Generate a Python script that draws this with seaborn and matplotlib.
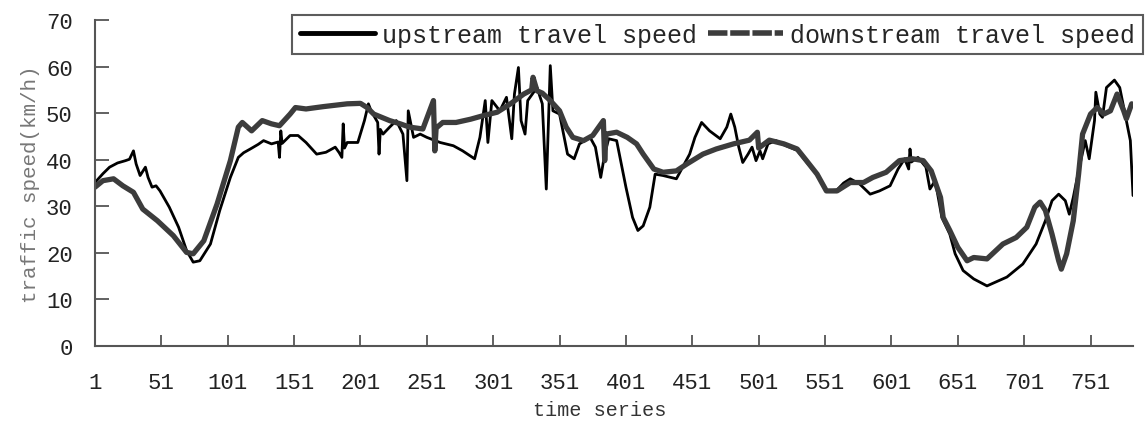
import pandas as pd
import seaborn as sns
import matplotlib.pyplot as plt
from matplotlib.lines import Line2D

sns.set_theme(style="white")
plt.rcParams["font.family"] = ["Liberation Mono", "DejaVu Sans Mono"]

# values
up_x = [1, 7, 12, 18, 24, 27, 30, 32, 35, 39, 41, 44, 47, 50, 57, 64, 70, 75, 80, 88,
        95, 103, 109, 113, 118, 124, 128, 134, 139, 140, 141, 142, 148, 154, 160, 168,
        175, 182, 185, 187, 188, 189, 191, 199, 204, 207, 209, 214, 215, 216, 218, 223,
        228, 233, 236, 237, 241, 246, 251, 261, 271, 278, 287, 291, 295, 297, 300, 306,
        311, 315, 317, 320, 322, 325, 327, 334, 338, 341, 344, 346, 351, 357, 362, 366,
        374, 378, 382, 385, 388, 394, 401, 406, 410, 414, 419, 423, 429, 439, 449, 453,
        458, 464, 472, 477, 480, 483, 486, 489, 493, 496, 499, 502, 504, 508, 514, 520,
        530, 537, 545, 552, 560, 565, 570, 577, 585, 592, 600, 606, 611, 614, 615, 616,
        621, 627, 630, 634, 639, 645, 649, 655, 663, 673, 688, 700, 710, 717, 722, 727,
        732, 735, 738, 742, 747, 750, 754, 755, 758, 760, 763, 769, 773, 778, 781, 783]
up_y = [35.1, 37.0, 38.4, 39.3, 39.8, 40.1, 41.9, 39.1, 36.6, 38.4, 36.2, 34.1, 34.4, 33.3,
        29.8, 25.5, 20.5, 18.0, 18.3, 21.9, 29.1, 36.2, 40.5, 41.5, 42.3, 43.3, 44.1, 43.4,
        43.8, 40.5, 46.2, 43.5, 45.2, 45.2, 43.7, 41.2, 41.6, 42.7, 41.5, 40.5, 47.7, 42.5,
        43.7, 43.7, 48.4, 52.0, 50.5, 48.0, 41.2, 46.5, 45.5, 47.0, 48.4, 45.5, 35.5, 50.5,
        44.8, 45.5, 44.8, 43.7, 43.0, 41.9, 40.2, 44.8, 52.7, 43.7, 52.7, 50.5, 53.4, 44.5,
        54.1, 59.8, 48.4, 45.5, 52.7, 55.5, 52.0, 33.7, 60.2, 50.5, 49.8, 41.2, 40.2, 43.4,
        44.8, 42.7, 36.2, 41.2, 44.5, 44.1, 34.1, 27.6, 24.8, 25.8, 29.8, 36.9, 36.6, 35.9,
        41.2, 44.8, 48.0, 46.2, 44.5, 47.0, 49.8, 47.0, 42.7, 39.4, 41.2, 42.7, 39.8, 41.9,
        40.2, 43.4, 44.1, 43.2, 42.0, 39.5, 36.8, 33.3, 33.5, 35.0, 35.9, 34.8, 32.6, 33.3,
        34.4, 38.0, 40.2, 38.0, 42.3, 39.5, 40.5, 38.4, 33.7, 35.5, 27.6, 24.0, 19.8, 16.2,
        14.4, 12.9, 14.8, 17.6, 21.9, 26.9, 31.2, 32.6, 31.2, 28.3, 31.9, 37.6, 44.1, 40.2,
        48.4, 54.5, 49.8, 49.1, 55.5, 57.1, 55.5, 48.4, 44.1, 32.3]

down_x = [1, 7, 15, 22, 30, 37, 48, 60, 70, 75, 83, 93, 103, 109, 112, 119, 127, 134, 140,
          148, 152, 160, 173, 191, 201, 206, 211, 223, 231, 238, 248, 256, 257, 258, 263,
          273, 284, 294, 304, 314, 324, 330, 331, 334, 338, 344, 351, 356, 361, 369, 376,
          384, 385, 386, 394, 402, 409, 414, 422, 429, 439, 447, 459, 469, 482, 494, 500,
          501, 509, 520, 530, 537, 545, 552, 560, 570, 580, 587, 597, 607, 617, 625, 631,
          638, 640, 645, 651, 658, 663, 673, 685, 695, 703, 709, 713, 717, 722, 727, 729,
          733, 738, 742, 745, 751, 756, 761, 766, 771, 776, 778, 782]
down_y = [34.1, 35.5, 35.9, 34.4, 33.0, 29.4, 26.9, 23.7, 20.1, 19.8, 22.6, 30.5, 39.8,
          47.0, 48.0, 46.2, 48.4, 47.7, 47.3, 49.8, 51.2, 50.9, 51.4, 52.0, 52.1, 51.2, 49.8,
          48.4, 47.7, 47.0, 46.6, 52.7, 41.9, 46.8, 48.0, 48.0, 48.7, 49.5, 50.2, 52.0, 54.1,
          55.0, 57.7, 54.8, 54.3, 52.7, 50.5, 47.0, 44.8, 44.1, 45.2, 48.4, 39.8, 45.5, 45.9,
          44.8, 43.4, 41.2, 38.0, 37.3, 37.6, 39.1, 41.2, 42.3, 43.4, 44.2, 45.9, 42.5, 44.2,
          43.4, 42.3, 39.8, 36.9, 33.3, 33.3, 35.1, 35.1, 36.2, 37.3, 39.8, 40.2, 39.8, 37.6,
          31.9, 27.6, 24.8, 21.2, 18.3, 19.0, 18.7, 21.9, 23.3, 25.5, 29.8, 30.9, 29.1, 24.0,
          18.3, 16.5, 19.8, 26.9, 36.9, 45.5, 49.8, 51.2, 49.8, 50.5, 54.1, 50.5, 48.8, 52.0]

x_ticks = list(range(1, 752, 50))

up_df = pd.DataFrame({"t": up_x, "speed": up_y})
down_df = pd.DataFrame({"t": down_x, "speed": down_y})

fig = plt.figure(figsize=(11.47, 4.27), dpi=100)
ax = fig.add_axes([0.0828, 0.1874, 0.905, 0.7634])

sns.lineplot(data=up_df, x="t", y="speed", ax=ax, color="black", linewidth=2.0)
sns.lineplot(data=down_df, x="t", y="speed", ax=ax, color="#3c3c3c", linewidth=3.8)

ax.set_xlim(1, 783)
ax.set_ylim(0, 70)
ax.set_xticks(x_ticks)
ax.set_xticklabels([str(t) for t in x_ticks])
ax.set_yticks(range(0, 71, 10))

for side in ["top", "right"]:
    ax.spines[side].set_visible(False)
for side in ["left", "bottom"]:
    ax.spines[side].set_color("#555555")
    ax.spines[side].set_linewidth(1.5)

ax.tick_params(axis="y", direction="in", length=10, width=1.3, color="#555555",
               pad=16, labelsize=16, labelcolor="#222222", left=True)
ax.tick_params(axis="x", direction="in", length=8, width=1.3, color="#555555",
               pad=19, labelsize=16, labelcolor="#222222", bottom=True)

ax.set_xlabel("time series", fontsize=14.5, color="#333333")
ax.xaxis.set_label_coords(0.486, -0.165)
ax.set_ylabel("traffic speed(km/h)", fontsize=15, color="#777777", labelpad=4)

handles = [
    Line2D([], [], color="black", linewidth=3.5),
    Line2D([], [], color="#3c3c3c", linewidth=4, dashes=(3.5, 0.5)),
]
leg = fig.legend(handles, ["upstream travel speed", "downstream travel speed"],
                 loc="upper right", bbox_to_anchor=(1143 / 1147, 1 - 16 / 427),
                 ncol=2, fontsize=18, frameon=True, fancybox=False,
                 handlelength=3.0, handletextpad=0.32, columnspacing=0.4,
                 borderpad=0.3, borderaxespad=0)
leg.get_frame().set_edgecolor("#333333")
leg.get_frame().set_linewidth(1.5)

fig.savefig("out.png", dpi=100)
